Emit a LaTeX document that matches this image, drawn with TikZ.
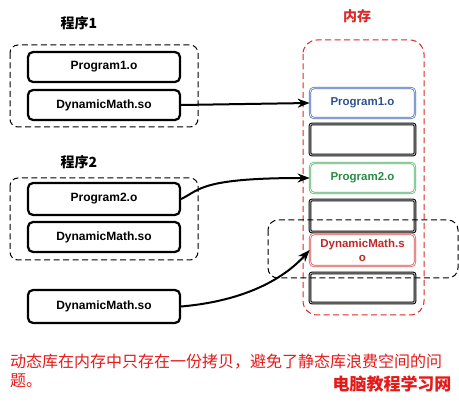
\documentclass[tikz,border=0pt]{standalone}
\usepackage{fontspec}
\newfontfamily\cjk{Noto Sans CJK SC}
\newfontfamily\labfont{Liberation Sans}
\usetikzlibrary{arrows.meta}
\definecolor{memred}{RGB}{220,40,40}
\definecolor{objblue}{RGB}{47,82,143}
\definecolor{lineblue}{RGB}{70,105,180}
\definecolor{objgreen}{RGB}{40,140,70}
\definecolor{linegreen}{RGB}{80,175,105}
\definecolor{dynred}{RGB}{190,40,40}
\definecolor{linered}{RGB}{220,80,80}
\definecolor{notered}{RGB}{230,25,25}
\tikzset{modbox/.style={draw,line width=2.2pt,rounded corners=5pt,
    minimum width=152pt,minimum height=30pt,inner sep=0pt,
    font=\labfont\bfseries\fontsize{12}{14}\selectfont}}
\tikzset{memslot/.style={draw,rounded corners=2pt,align=center,
    minimum width=105pt,minimum height=30pt,inner sep=0pt,
    font=\labfont\bfseries\fontsize{11.5}{14}\selectfont}}
\tikzset{emptyslot/.style={memslot,line width=1.1pt,double=white,double distance=0.6pt}}
\tikzset{usedslot/.style={memslot,line width=0.7pt,double=white,double distance=0.8pt,rounded corners=4pt}}
\tikzset{groupbox/.style={line width=1pt,dash pattern=on 6pt off 3.5pt,rounded corners=8pt}}
\tikzset{link/.style={-{Stealth[length=12pt,width=9pt]},line width=2pt}}
\tikzset{title/.style={font=\cjk\bfseries\fontsize{14}{16}\selectfont}}

\begin{document}
\begin{tikzpicture}[x=1pt,y=-1pt]
\useasboundingbox (0,0) rectangle (459,404);

%   程序1
\node[title] (t1) at (79,23) {程序1};
\draw[groupbox] (10,45) rectangle (198,127);
\node[modbox] (p1obj) at (104,67) {Program1.o};
\node[modbox] (p1dyn) at (104,105) {DynamicMath.so};

%   程序2
\node[title] (t2) at (79,162) {程序2};
\draw[groupbox] (10,178) rectangle (198,260);
\node[modbox,minimum height=32pt] (p2obj) at (104,199) {Program2.o};
\node[modbox] (p2dyn) at (104,237) {DynamicMath.so};

%   单独的动态库
\node[modbox,minimum height=33pt] (dyn) at (104,306.5) {DynamicMath.so};

%   内存
\node[title,text=memred] (tm) at (357,16) {内存};
\draw[groupbox,draw=memred,rounded corners=14pt] (303,40) rectangle (424,315);
\node[usedslot,draw=lineblue,text=objblue] (m1) at (362.5,103) {Program1.o};
\node[emptyslot,minimum height=31pt] (m2) at (362.5,139.5) {};
\node[usedslot,draw=linegreen,text=objgreen] (m3) at (362.5,178) {Program2.o};
\node[emptyslot,minimum height=32pt] (m4) at (362.5,216) {};
\node[usedslot,draw=linered,text=dynred,minimum height=32pt] (m5) at (362.5,250) {DynamicMath.s\\o};
\node[emptyslot] (m6) at (362.5,288) {};
\draw[groupbox,rounded corners=10pt] (268,220) rectangle (458,278);

%   箭头
\draw[link] (p1dyn.east) -- (m1.west);
\draw[link] (p2obj.east) .. controls (200,190) and (200,178) .. (m3.west);
\draw[link] (dyn.east) .. controls (255,300) and (290,272) .. (m5.west);

%   说明
\node[anchor=west,align=left,text=notered,inner sep=0pt,
    font=\cjk\fontsize{16}{19}\selectfont] (note) at (10,371)
    {动态库在内存中只存在一份拷贝，避免了静态库浪费空间的问\\题。};
\node[text=notered,font=\cjk\bfseries\fontsize{17}{19}\selectfont] (mark) at (392,384) {电脑教程学习网};

\end{tikzpicture}
\end{document}
